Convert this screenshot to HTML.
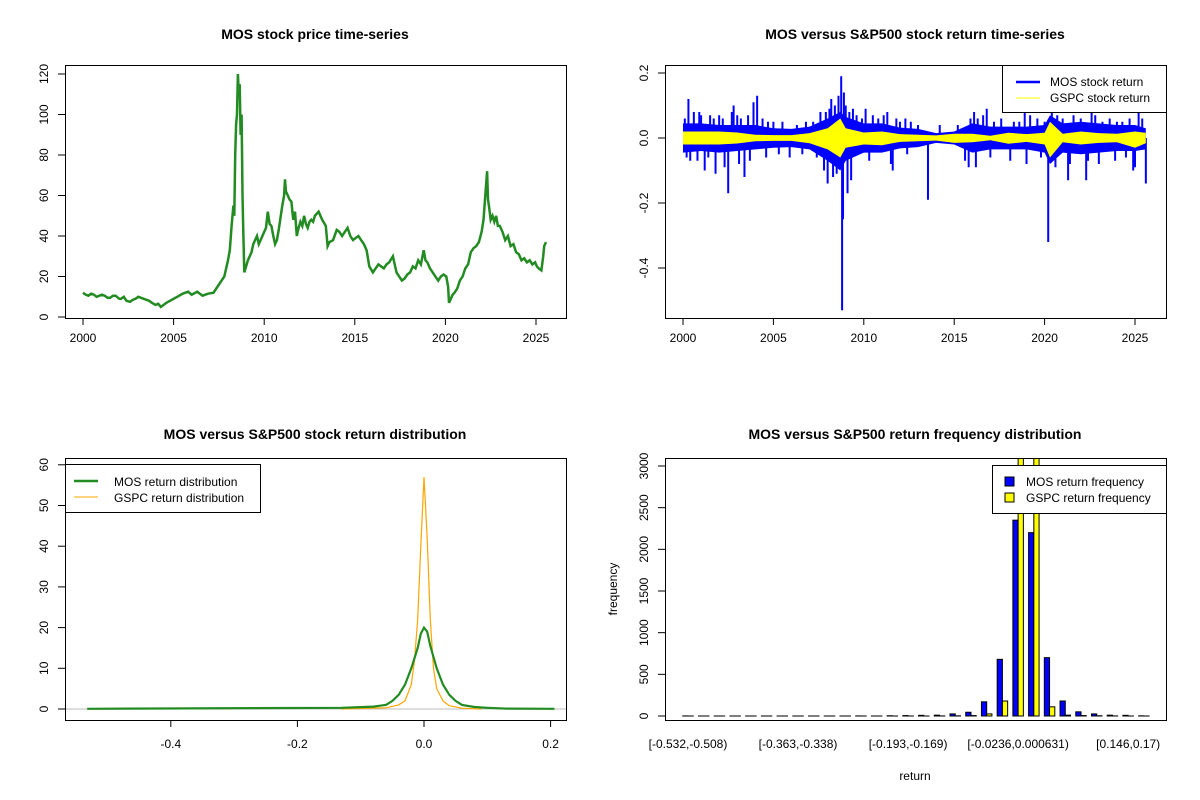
<!DOCTYPE html>
<html><head><meta charset="utf-8">
<style>
html,body{margin:0;padding:0;background:#fff;}
svg{display:block;font-family:"Liberation Sans",Arial,sans-serif;}
</style></head>
<body>
<svg id="c" width="1200" height="800" viewBox="0 0 1200 800" xmlns="http://www.w3.org/2000/svg"></svg>
<script>
// ---- Panel 1 data: MOS price ----
const priceYears = [2000.0,2000.15,2000.3,2000.45,2000.6,2000.75,2000.9,2001.05,2001.2,2001.35,2001.5,2001.65,2001.8,2002.0,2002.1,2002.25,2002.4,2002.6,2002.75,2002.9,2003.05,2003.2,2003.35,2003.5,2003.65,2003.8,2004.0,2004.15,2004.3,2004.45,2004.6,2004.9,2005.2,2005.5,2005.8,2006.0,2006.3,2006.6,2006.9,2007.2,2007.5,2007.8,2008.0,2008.1,2008.2,2008.3,2008.35,2008.4,2008.45,2008.5,2008.55,2008.6,2008.65,2008.7,2008.75,2008.8,2008.85,2008.9,2009.0,2009.1,2009.2,2009.3,2009.4,2009.5,2009.6,2009.7,2009.8,2010.0,2010.1,2010.2,2010.3,2010.4,2010.5,2010.6,2010.7,2010.8,2011.0,2011.1,2011.15,2011.2,2011.3,2011.4,2011.5,2011.6,2011.7,2011.8,2011.9,2012.0,2012.1,2012.2,2012.3,2012.4,2012.5,2012.6,2012.7,2012.8,2013.0,2013.2,2013.4,2013.5,2013.6,2013.8,2014.0,2014.15,2014.3,2014.45,2014.6,2014.75,2014.9,2015.05,2015.2,2015.35,2015.5,2015.65,2015.8,2016.0,2016.15,2016.3,2016.45,2016.6,2016.75,2016.9,2017.1,2017.2,2017.3,2017.45,2017.6,2017.75,2017.9,2018.05,2018.2,2018.35,2018.5,2018.65,2018.8,2018.9,2019.0,2019.15,2019.3,2019.45,2019.6,2019.75,2019.9,2020.05,2020.15,2020.2,2020.3,2020.4,2020.5,2020.65,2020.8,2020.95,2021.1,2021.25,2021.4,2021.55,2021.7,2021.85,2022.0,2022.1,2022.2,2022.25,2022.3,2022.35,2022.4,2022.5,2022.6,2022.7,2022.8,2022.9,2023.0,2023.15,2023.3,2023.45,2023.6,2023.75,2023.9,2024.05,2024.2,2024.35,2024.5,2024.65,2024.8,2024.95,2025.05,2025.15,2025.3,2025.4,2025.45,2025.55];
const priceValues = [12,11,10.5,11.5,11,10,10.5,11,10.5,9.5,9.5,10.5,10.5,9,9,10,8,7.5,8.5,9,10,9.5,9,8.5,8,7,6,6.5,5,6,7,8.5,10,11.5,12.5,11,12.5,10.5,11.5,12,16,20,28,33,45,55,50,80,95,100,120,110,115,90,100,60,40,22,25,28,30,32,36,38,40,36,38,42,44,52,46,45,40,36,38,43,55,60,68,62,60,58,57,48,52,40,44,47,45,50,46,44,47,48,47,50,52,48,45,35,37,38,43,42,40,42,44,40,38,39,40,38,36,33,25,22,24,26,25,24,26,27,30,26,22,20,18,19,21,22,25,24,28,26,33,28,27,24,22,20,18,20,21,20,15,7,9,11,12,14,18,20,24,26,32,34,35,37,42,48,60,66,72,58,55,48,50,47,50,45,45,42,38,40,35,36,32,31,28,29,27,28,26,27,25,24,23,30,35,37,31];
const priceTicks = [0,20,40,60,80,100,120];
const yearTicks = [2000,2005,2010,2015,2020,2025];
// ---- Panel 2 data: returns ----
const bandYears = [2000,2001,2002,2003,2004,2005,2006,2007,2008,2008.7,2009,2010,2011,2012,2013,2014,2015,2016,2017,2018,2019,2020,2020.3,2021,2022,2023,2024,2025,2025.6];
const mosHi = [0.045,0.045,0.04,0.04,0.04,0.03,0.028,0.035,0.06,0.08,0.065,0.045,0.045,0.032,0.028,0.015,0.02,0.045,0.035,0.035,0.035,0.04,0.07,0.045,0.05,0.045,0.04,0.04,0.03];
const mosLo = [-0.045,-0.04,-0.045,-0.04,-0.035,-0.03,-0.028,-0.035,-0.07,-0.1,-0.07,-0.045,-0.045,-0.032,-0.028,-0.015,-0.02,-0.045,-0.035,-0.035,-0.035,-0.045,-0.08,-0.045,-0.05,-0.045,-0.04,-0.04,-0.035];
const gspcHi = [0.02,0.02,0.02,0.017,0.01,0.009,0.009,0.015,0.03,0.06,0.03,0.017,0.02,0.012,0.01,0.008,0.013,0.013,0.007,0.016,0.012,0.016,0.05,0.013,0.02,0.015,0.013,0.02,0.016];
const gspcLo = [-0.02,-0.02,-0.02,-0.017,-0.01,-0.009,-0.009,-0.016,-0.035,-0.06,-0.03,-0.02,-0.022,-0.012,-0.01,-0.008,-0.015,-0.013,-0.007,-0.018,-0.012,-0.02,-0.06,-0.013,-0.02,-0.015,-0.013,-0.03,-0.016];
const spikeYears = [2000.3,2000.4,2001.2,2002.5,2003.4,2004.1,2003.9,2001.8,2008.2,2008.75,2008.8,2008.85,2009.1,2008.0,2013.55,2020.2,2025.6,2011.6,2015.8,2016.8,2022.3,2024.9,2021.3,2010.1,2011.3,2002.8,2007.6,2009.4,2016.1,2018.9,2022.6,2000.9,2005.9,2012.3,
 2000.1,2000.6,2001.0,2001.5,2001.7,2002.0,2002.2,2002.7,2003.0,2003.2,2003.6,2004.4,2004.7,2005.0,2005.5,2006.3,2006.8,2007.2,2007.9,2008.1,2008.4,2008.6,2008.9,2009.0,2009.2,2009.6,2009.9,2010.5,2010.8,2011.1,2011.8,2012.0,2012.6,2013.0,2014.2,2015.2,2015.9,2016.3,2016.6,2017.2,2017.6,2018.3,2018.6,2019.2,2019.6,2020.0,2020.4,2020.7,2021.0,2021.6,2022.0,2022.8,2023.2,2023.6,2024.0,2024.3,2024.7,2025.2,2025.4,
 2000.2,2000.8,2001.4,2002.3,2003.1,2003.7,2004.6,2005.3,2006.6,2007.4,2007.8,2008.3,2008.5,2009.3,2010.3,2011.5,2012.4,2015.6,2016.2,2017.0,2018.1,2019.0,2019.8,2020.6,2021.4,2022.4,2023.0,2023.9,2024.5,2025.0];
const spikeValues = [0.12,-0.07,-0.1,-0.17,-0.12,0.13,0.11,-0.11,0.12,0.19,-0.53,-0.25,-0.17,-0.14,-0.19,-0.32,-0.14,-0.10,-0.09,0.09,-0.13,-0.10,-0.13,0.09,0.08,0.10,0.08,0.09,0.08,0.08,0.08,0.08,-0.06,0.06,
 0.06,0.08,0.07,0.07,0.06,0.07,0.06,0.08,0.07,0.06,0.07,0.06,0.05,0.05,0.05,0.04,0.05,0.05,0.08,0.09,0.1,0.13,0.14,0.1,0.08,0.07,0.06,0.07,0.06,0.07,0.06,0.05,0.05,0.04,0.04,0.04,0.06,0.06,0.07,0.05,0.06,0.05,0.05,0.07,0.06,0.05,0.08,0.07,0.06,0.07,0.06,0.07,0.05,0.06,0.05,0.05,0.06,0.08,0.06,
 -0.06,-0.07,-0.06,-0.09,-0.08,-0.07,-0.06,-0.05,-0.05,-0.06,-0.1,-0.12,-0.11,-0.13,-0.07,-0.08,-0.05,-0.07,-0.09,-0.06,-0.07,-0.08,-0.06,-0.09,-0.08,-0.07,-0.08,-0.07,-0.06,-0.09];
const retTicks = [0.2,0.0,-0.2,-0.4];
// ---- Panel 3 data: densities ----
const mosDensX = [-0.532,-0.13,-0.08,-0.06,-0.05,-0.04,-0.03,-0.02,-0.01,-0.005,0,0.005,0.01,0.02,0.03,0.04,0.05,0.06,0.08,0.1,0.13,0.206];
const mosDensY = [0.05,0.3,0.6,1,2,3.5,6,10,15,18.5,20,19,15.5,10,6,3.5,2,1,0.5,0.3,0.1,0.05];
const gspcDensX = [-0.13,-0.06,-0.04,-0.03,-0.02,-0.015,-0.01,-0.005,0,0.005,0.01,0.015,0.02,0.03,0.04,0.06,0.09];
const gspcDensY = [0,0.3,1,2,6,12,22,40,57,42,22,10,5,2,0.8,0.2,0];
const densYTicks = [0,10,20,30,40,50,60];
const densXTicks = [-0.4,-0.2,0.0,0.2];
// ---- Panel 4 data: histogram ----
const binLabels = ["[-0.532,-0.508)","[-0.363,-0.338)","[-0.193,-0.169)","[-0.0236,0.000631)","[0.146,0.17)"];
const binLabelIdx = [0,7,14,21,28];
const mosFreq = [1,0,0,0,0,0,0,0,0,0,0,1,0,3,5,8,10,25,45,170,680,2350,2200,700,180,50,25,10,8,2];
const gspcFreq = [0,0,0,0,0,0,0,0,0,0,0,0,0,0,0,0,1,2,5,25,180,3400,3300,110,10,5,3,1,0,0];
const freqTicks = [0,500,1000,1500,2000,2500,3000];

const svg = document.getElementById('c');
const NS = 'http://www.w3.org/2000/svg';
function el(tag, attrs, parent){const e=document.createElementNS(NS,tag);for(const k in attrs)e.setAttribute(k,attrs[k]);(parent||svg).appendChild(e);return e;}
function txt(s, x, y, attrs){const t=el('text',Object.assign({x:x,y:y,'font-size':12,'text-anchor':'middle',fill:'#000'},attrs||{}));t.textContent=s;return t;}

// ===== Panel 1 =====
{
const g=el('g',{});  
const X=y=>83+(y-2000)*18.12, Y=v=>317-v*2.025;
let t=txt('MOS stock price time-series',315,39,{'font-size':14,'font-weight':'bold'});  
let d=priceYears.map((y,i)=>(i?'L':'M')+X(y).toFixed(1)+','+Y(priceValues[i]).toFixed(1)).join('');
let p=el('path',{d:d,fill:'none',stroke:'#228B22','stroke-width':2.5,'stroke-linejoin':'miter'},g);  
el('rect',{x:65.5,y:65.5,width:501,height:253,fill:'none',stroke:'#000'},g);
priceTicks.forEach(v=>{el('line',{x1:65,x2:58,y1:Y(v),y2:Y(v),stroke:'#000'},g);const tt=txt(String(v),0,0,{transform:`translate(48,${Y(v)}) rotate(-90)`});});
yearTicks.forEach(v=>{el('line',{x1:X(v),x2:X(v),y1:318,y2:325,stroke:'#000'},g);const tt=txt(String(v),X(v),342);});
}
// ===== Panel 2 =====
{
const g=el('g',{});  
const X=y=>683+(y-2000)*18.08, Y=v=>138-v*325;
let t=txt('MOS versus S&P500 stock return time-series',915,39,{'font-size':14,'font-weight':'bold'});  
const band=(hi,lo)=>bandYears.map((y,i)=>(i?'L':'M')+X(y).toFixed(1)+','+Y(hi[i]).toFixed(1)).join('')+bandYears.slice().reverse().map((y,j)=>{const i=bandYears.length-1-j;return 'L'+X(y).toFixed(1)+','+Y(lo[i]).toFixed(1);}).join('')+'Z';
spikeYears.forEach((y,i)=>{const l=el('line',{x1:X(y),x2:X(y),y1:Y(0),y2:Y(spikeValues[i]),stroke:'#0000FF','stroke-width':2},g);});
let b=el('path',{d:band(mosHi,mosLo),fill:'#0000FF'},g);  
let b2=el('path',{d:band(gspcHi,gspcLo),fill:'#FFFF00'},g);  
el('rect',{x:665.5,y:65.5,width:501,height:253,fill:'none',stroke:'#000'},g);
retTicks.forEach(v=>{el('line',{x1:665,x2:658,y1:Y(v),y2:Y(v),stroke:'#000'},g);const tt=txt(v.toFixed(1),0,0,{transform:`translate(648,${Y(v)}) rotate(-90)`});});
yearTicks.forEach(v=>{el('line',{x1:X(v),x2:X(v),y1:318,y2:325,stroke:'#000'},g);const tt=txt(String(v),X(v),342);});
const lg=el('g',{},g);  
el('rect',{x:1002.5,y:65.5,width:164,height:47,fill:'#fff',stroke:'#000'},lg);
el('line',{x1:1016,x2:1040,y1:82,y2:82,stroke:'#0000FF','stroke-width':2.5},lg);
el('line',{x1:1016,x2:1040,y1:98,y2:98,stroke:'#FFFF00','stroke-width':1},lg);
txt('MOS stock return',1050,86,{'text-anchor':'start'}); txt('GSPC stock return',1050,102,{'text-anchor':'start'});
}
// ===== Panel 3 =====
{
const g=el('g',{});  
const X=v=>424+v*633, Y=v=>709-v*4.07;
let t=txt('MOS versus S&P500 stock return distribution',315,439,{'font-size':14,'font-weight':'bold'});  
el('line',{x1:65,x2:566,y1:Y(0),y2:Y(0),stroke:'#bebebe'},g);
let d1=mosDensX.map((x,i)=>(i?'L':'M')+X(x).toFixed(1)+','+Y(mosDensY[i]).toFixed(1)).join('');
let d2=gspcDensX.map((x,i)=>(i?'L':'M')+X(x).toFixed(1)+','+Y(gspcDensY[i]).toFixed(1)).join('');
let p2=el('path',{d:d2,fill:'none',stroke:'#FFA500','stroke-width':1.2},g);  
let p1=el('path',{d:d1,fill:'none',stroke:'#228B22','stroke-width':2.2},g);  
el('rect',{x:65.5,y:458.5,width:501,height:262,fill:'none',stroke:'#000'},g);
densYTicks.forEach(v=>{el('line',{x1:65,x2:58,y1:Y(v),y2:Y(v),stroke:'#000'},g);const tt=txt(String(v),0,0,{transform:`translate(48,${Y(v)}) rotate(-90)`});});
densXTicks.forEach(v=>{el('line',{x1:X(v),x2:X(v),y1:720,y2:727,stroke:'#000'},g);const tt=txt(v.toFixed(1),X(v),748);});
const lg=el('g',{},g);  
el('rect',{x:65.5,y:464.5,width:195,height:48,fill:'#fff',stroke:'#000'},lg);
el('line',{x1:74,x2:98,y1:481,y2:481,stroke:'#228B22','stroke-width':2.5},lg);
el('line',{x1:74,x2:98,y1:497,y2:497,stroke:'#FFA500','stroke-width':1},lg);
txt('MOS return distribution',114,486,{'text-anchor':'start'}); txt('GSPC return distribution',114,502,{'text-anchor':'start'});
}
// ===== Panel 4 =====
{
const g=el('g',{});  
const C=i=>688+i*15.72, Y=v=>716-v*(250/3000), bw=5.24;
let t=txt('MOS versus S&P500 return frequency distribution',915,439,{'font-size':14,'font-weight':'bold'});  
const cp=el('clipPath',{id:'cp'});
el('rect',{x:665,y:458,width:501,height:262},cp);
const bars=el('g',{'clip-path':'url(#cp)'},g);
mosFreq.forEach((v,i)=>{const r=el('rect',{x:C(i)-bw,y:Y(v),width:bw,height:Math.max(0.01,v*250/3000),fill:'#0000FF',stroke:'#000','stroke-width':1},bars);});
gspcFreq.forEach((v,i)=>{const r=el('rect',{x:C(i),y:Y(v),width:bw,height:Math.max(0.01,v*250/3000),fill:'#FFFF00',stroke:'#000','stroke-width':1},bars);});
el('rect',{x:665.5,y:458.5,width:501,height:262,fill:'none',stroke:'#000'},g);
freqTicks.forEach(v=>{el('line',{x1:665,x2:658,y1:Y(v),y2:Y(v),stroke:'#000'},g);const tt=txt(String(v),0,0,{transform:`translate(648,${Y(v)}) rotate(-90)`});});
binLabelIdx.forEach((i,k)=>{const tt=txt(binLabels[k],C(i),748);});
let xl=txt('return',915,780);  
let yl=txt('frequency',0,0,{transform:'translate(617,589) rotate(-90)'});  
const lg=el('g',{},g);  
el('rect',{x:992.5,y:465.5,width:174,height:48,fill:'#fff',stroke:'#000'},lg);
el('rect',{x:1005,y:477,width:9,height:9,fill:'#0000FF',stroke:'#000'},lg);
el('rect',{x:1005,y:493,width:9,height:9,fill:'#FFFF00',stroke:'#000'},lg);
txt('MOS return frequency',1026,486,{'text-anchor':'start'}); txt('GSPC return frequency',1026,502,{'text-anchor':'start'});
}
</script>
</body></html>
